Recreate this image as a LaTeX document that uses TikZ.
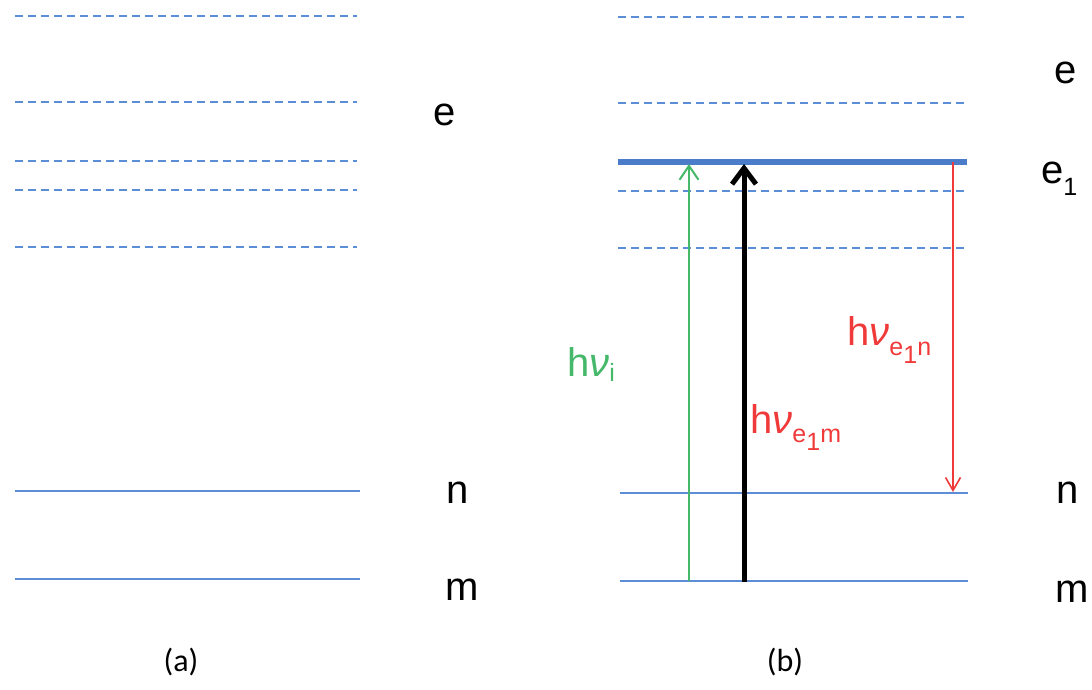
\documentclass[tikz,border=0pt]{standalone}
\usepackage{fontspec}
\setmainfont{Liberation Sans}
\newfontfamily\capfont{Carlito}
\usetikzlibrary{arrows.meta}
\definecolor{lvlblue}{HTML}{5B8ED6}
\definecolor{thickblue}{HTML}{4A7CC9}
\definecolor{arrgreen}{HTML}{45B86A}
\definecolor{arrred}{HTML}{F03A3A}
\newcommand{\subsz}{\fontsize{25}{25}\selectfont}
\begin{document}
\begin{tikzpicture}[x=1pt,y=-1pt,
  dashlvl/.style={lvlblue,line width=2pt,dash pattern=on 8pt off 5pt},
  solidlvl/.style={lvlblue,line width=1.6pt},
  thicklvl/.style={thickblue,line width=5.5pt},
  lbl/.style={font=\fontsize{40}{42}\selectfont,inner sep=0pt,anchor=base west},
  caplbl/.style={font=\capfont\fontsize{32}{36}\selectfont,inner sep=0pt},
  tlbl/.style={font=\fontsize{40}{42}\selectfont,inner sep=0pt,anchor=base west}]
\useasboundingbox (0,0) rectangle (1092,689);
% panel (a)
\foreach \yy in {16,102,161,190,247} \draw[dashlvl] (15,\yy) -- (357,\yy);
\draw[solidlvl] (15,491) -- (360,491);
\draw[solidlvl] (15,579) -- (360,579);
\node[lbl] (ea) at (433,125) {e};
\node[lbl] (na) at (446,503) {n};
\node[lbl] (ma) at (445,600) {m};
\node[caplbl] (capa) at (181,662) {(a)};
% panel (b)
\foreach \yy in {17,103,191,248} \draw[dashlvl] (618,\yy) -- (965,\yy);
\coordinate (e1l) at (618,162);
\coordinate (e1r) at (967,162);
\draw[thicklvl] (e1l) -- (e1r);
\coordinate (nl) at (620,493);
\coordinate (nr) at (968,493);
\coordinate (ml) at (620,581);
\coordinate (mr) at (968,581);
\draw[solidlvl] (nl) -- (nr);
\draw[solidlvl] (ml) -- (mr);
\coordinate (gb) at (689,581);
\coordinate (gt) at (689,164);
\coordinate (kb) at (744,582);
\coordinate (kt) at (744,164);
\coordinate (rt) at (953,162);
\coordinate (rb) at (953,492);
\draw[arrgreen,line width=2pt,-{Straight Barb[length=14pt,width=19pt,line width=2pt]}] (gb) -- (gt);
\draw[black,line width=5pt,-{Straight Barb[length=16pt,width=24pt,line width=5pt]}] (kb) -- (kt);
\draw[arrred,line width=1.6pt,-{Straight Barb[length=13pt,width=15pt,line width=1.6pt]}] (rt) -- (rb);
\node[lbl] (eb) at (1054,83) {e};
\node[lbl] (e1) at (1041,183) {e\raisebox{-12pt}{\subsz 1}};
\node[lbl] (nb) at (1056,503) {n};
\node[lbl] (mb) at (1055,602) {m};
\node[tlbl,arrgreen] (hvi) at (567,376) {h\textit{ν}\raisebox{-5pt}{\subsz i}};
\node[tlbl,arrred] (hvm) at (750,433) {h\textit{ν}\raisebox{-9pt}{\subsz e\raisebox{-8pt}{1}m}};
\node[tlbl,arrred] (hvn) at (847,345) {h\textit{ν}\raisebox{-10pt}{\subsz e\raisebox{-8pt}{1}n}};
\node[caplbl] (capb) at (785,662) {(b)};
\end{tikzpicture}
\end{document}
